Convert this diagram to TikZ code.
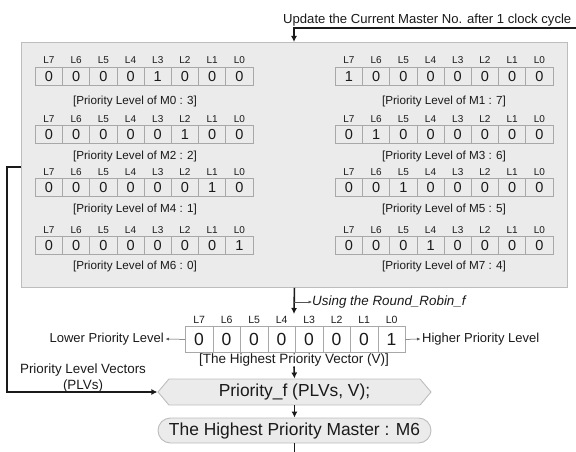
\documentclass[tikz,border=0pt]{standalone}
\usepackage{fontspec}
\setmainfont{Liberation Sans}
\usetikzlibrary{arrows.meta,shapes.symbols,calc}

\definecolor{panel}{HTML}{EBEBEB}
\definecolor{panelline}{HTML}{BDBDBD}
\definecolor{cellline}{HTML}{A8A8A8}
\definecolor{ink}{HTML}{1A1A1A}

\tikzset{
  bigbox/.style={draw=panelline, fill=panel, line width=0.9pt, inner sep=0},
  bitcell/.style={draw=cellline, line width=0.7pt, minimum width=27.2pt, minimum height=18pt,
                  inner sep=0, font=\fontsize{14.5}{15}\selectfont, text=ink},
  vcell/.style={bitcell, fill=white, minimum width=27.5pt, minimum height=26pt,
                font=\fontsize{17.5}{18}\selectfont},
  bitlabel/.style={inner sep=0, font=\fontsize{10}{11}\selectfont, text=ink},
  caption/.style={inner sep=0, font=\fontsize{11.7}{13}\selectfont, text=ink},
  plain/.style={inner sep=0, text=ink},
  flow/.style={draw=ink, line width=1.6pt, -{Latex[length=6pt,width=6pt]}},
  thinarrow/.style={draw=ink!75, line width=0.5pt, -{Latex[length=3.5pt,width=3pt]}},
  stage/.style={draw=panelline, fill=panel, line width=0.9pt, text=ink,
                font=\fontsize{17.4}{18}\selectfont, minimum width=273pt, minimum height=26pt, inner sep=0},
}

% one priority level vector: name, left x, cell top y, bits, caption x, caption y, caption text
\newcommand\plvrow[7]{%
  \foreach \b [count=\k from 0] in {#4} {
    \pgfmathtruncatemacro\lvl{7-\k}
    \node[bitcell, anchor=north west] (#1c\k) at ({#2+27.2*\k}, #3) {\b};
    \node[bitlabel, anchor=base] (#1l\k) at ($(#1c\k.north)+(0,-3)$) {L\lvl};
  }
  \node[caption] (#1cap) at (#5, #6) {#7};
}

\begin{document}
\begin{tikzpicture}[x=1pt, y=-1pt]
\useasboundingbox (0,0) rectangle (576,452);

% panel holding the eight priority level vectors
\node[bigbox, anchor=north west, minimum width=546pt, minimum height=245pt] (box) at (21,42) {};

\plvrow{mzero}{35}{67}{0,0,0,0,1,0,0,0}{135}{101}{[Priority Level of M0 : 3]}
\plvrow{mone}{335}{67}{1,0,0,0,0,0,0,0}{444}{101}{[Priority Level of M1 : 7]}
\plvrow{mtwo}{35}{125}{0,0,0,0,0,1,0,0}{135}{156}{[Priority Level of M2 : 2]}
\plvrow{mthree}{335}{125}{0,1,0,0,0,0,0,0}{444}{156}{[Priority Level of M3 : 6]}
\plvrow{mfour}{35}{178}{0,0,0,0,0,0,1,0}{135}{209}{[Priority Level of M4 : 1]}
\plvrow{mfive}{335}{178}{0,0,1,0,0,0,0,0}{444}{209}{[Priority Level of M5 : 5]}
\plvrow{msix}{35}{236}{0,0,0,0,0,0,0,1}{135}{266}{[Priority Level of M6 : 0]}
\plvrow{mseven}{335}{236}{0,0,0,1,0,0,0,0}{444}{266}{[Priority Level of M7 : 4]}

% feedback: update of the current master
\node[plain, anchor=west, font=\fontsize{13.1}{14}\selectfont] (updtxt) at (283,20)
  {Update the Current Master No. after 1 clock cycle};
\coordinate (fbEnd) at (576,28);
\coordinate (fbTurn) at (294,28);
\draw[flow] (fbEnd) -- (fbTurn) -- (fbTurn |- box.north);

% round robin step
\coordinate (rrTip) at (294,314);
\coordinate (rrTap) at (294,302);
\draw[flow] (box.south) -- (rrTip);
\node[plain, anchor=west, font=\itshape\fontsize{13.4}{14}\selectfont] (rrtxt) at (312,302)
  {Using the Round\_Robin\_f};
\draw[thinarrow] (rrTap) -- (rrtxt.west);

% highest priority vector V
\foreach \b [count=\k from 0] in {0,0,0,0,0,0,0,1} {
  \pgfmathtruncatemacro\lvl{7-\k}
  \node[vcell, anchor=north west] (v\k) at ({185+27.5*\k}, 326) {\b};
  \node[bitlabel, font=\fontsize{10.5}{11}\selectfont, anchor=base] (vl\k) at ($(v\k.north)+(0,-3)$) {L\lvl};
}
\node[plain, font=\fontsize{13.5}{14}\selectfont] (vcap) at (294,360) {[The Highest Priority Vector (V)]};
\node[plain, anchor=east, font=\fontsize{13}{14}\selectfont] (lowtxt) at (164,339) {Lower Priority Level};
\node[plain, anchor=west, font=\fontsize{13}{14}\selectfont] (hightxt) at (422,339) {Higher Priority Level};
\draw[thinarrow] (v0.west) -- ([xshift=1.5pt]lowtxt.east);
\draw[thinarrow] (v7.east) -- ([xshift=-1.5pt]hightxt.west);

% priority function and result
\node[stage, signal, signal to=east and west, signal pointer angle=100] (prio) at (294.5,392)
  {Priority\_f (PLVs, V);};
\node[stage, rounded corners=12.5pt, minimum height=25pt] (master) at (294.5,430.5)
  {The Highest Priority Master : M6};
\coordinate (exitEnd) at (294.5,452);

\draw[flow] (vcap.south) -- (prio.north);
\draw[flow] (prio.south) -- (master.north);
\draw[draw=ink, line width=1.6pt] (master.south) -- (exitEnd);

% priority level vectors fed into the function
\node[plain, align=center, font=\fontsize{13.4}{16}\selectfont] (plvtxt) at (83,378)
  {Priority Level Vectors\\(PLVs)};
\coordinate (plvA) at (7,167);
\coordinate (plvB) at (7,392);
\draw[flow] (box.west |- plvA) -- (plvA) -- (plvB) -- (prio.west);
\end{tikzpicture}
\end{document}
